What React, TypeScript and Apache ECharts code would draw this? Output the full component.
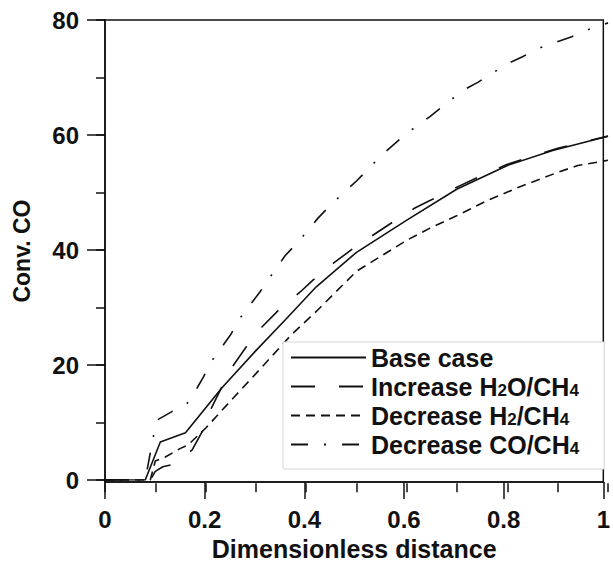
import React, { useEffect, useRef } from "react";
import * as echarts from "echarts";

// ---- data ----
const baseX = [0, 0.08, 0.11, 0.16, 0.233, 0.3, 0.36, 0.42, 0.5, 0.6, 0.7, 0.8, 0.89, 1.0];
const baseY = [0, 0, 6.6, 8.2, 16.1, 22.5, 28, 33.6, 39.6, 45.2, 50.6, 54.7, 57.3, 59.8];

const h2oX = [0, 0.09, 0.1, 0.115, 0.135, 0.173, 0.195, 0.212, 0.233, 0.254, 0.282, 0.312, 0.348, 0.388, 0.414, 0.454, 0.5, 0.573, 0.616, 0.646, 0.706, 0.75, 0.8, 0.9, 1.0];
const h2oY = [0, 0, 1.5, 2.3, 2.7, 5.2, 8.7, 12.6, 16.3, 19.8, 23.3, 26.6, 29.8, 32.7, 34.8, 37.7, 40.7, 44.9, 47.3, 48.6, 51.2, 53, 54.9, 57.7, 59.8];

const h2X = [0, 0.09, 0.1, 0.12, 0.15, 0.165, 0.2, 0.25, 0.3, 0.371, 0.421, 0.5, 0.6, 0.646, 0.7, 0.76, 0.825, 0.9, 0.94, 1.0];
const h2Y = [0, 0, 3.3, 4, 5.5, 6.1, 9, 13.8, 18.5, 25.3, 29.4, 36.3, 41.7, 43.8, 46, 48.6, 51, 53.5, 54.7, 55.6];

const coX = [0, 0.08, 0.096, 0.105, 0.133, 0.163, 0.183, 0.195, 0.213, 0.25, 0.268, 0.308, 0.326, 0.358, 0.388, 0.423, 0.454, 0.5, 0.55, 0.6, 0.646, 0.712, 0.742, 0.8, 0.83, 0.86, 0.928, 0.96, 1.0];
const coY = [0, 0, 7.5, 10.5, 11.9, 13.3, 16, 17.8, 20.8, 25.3, 28.1, 32.7, 35, 39, 41.8, 45.5, 48.3, 52, 56.5, 60.3, 63.2, 67.8, 69.2, 72.4, 73.6, 75, 77.1, 78.3, 79.5];

const seriesNames = ["Base case", "Increase H2O/CH4", "Decrease H2/CH4", "Decrease CO/CH4"];
const legendLabels = [
  "Base case",
  "Increase H{sub|2}O/CH{sub|4}",
  "Decrease H{sub|2}/CH{sub|4}",
  "Decrease CO/CH{sub|4}",
];

const FONT = "'Liberation Sans', Arial, Helvetica, sans-serif";
const INK = "#111";

function zip(xs: number[], ys: number[]) {
  return xs.map((x, i) => [x, ys[i]]);
}

export default function App() {
  const ref = useRef<HTMLDivElement>(null);
  useEffect(() => {
    document.body.style.margin = "0";
    if (!ref.current) return;
    const chart = echarts.init(ref.current, undefined, { renderer: "svg" });
    const lineW = 1.6;
    const mk = (name: string, data: number[][], dash: any) => ({
      name,
      type: "line",
      data,
      symbol: "none",
      smooth: false,
      xAxisIndex: 1,
      yAxisIndex: 1,
      lineStyle: { color: INK, width: lineW, type: dash, cap: "butt" },
      itemStyle: { color: INK },
    });
    const ts = () => ({ color: INK, width: 1.5 });
    const option: any = {
      animation: false,
      grid: [
        // frame grid: its bottom edge (the x axis) sits a little below value 0
        { left: 105, right: 5, top: 20, bottom: 83, show: true, borderColor: INK, borderWidth: 1.5, backgroundColor: "transparent" },
        // value grid: 0 .. 80
        { left: 105, right: 5, top: 20, bottom: 86, show: false },
      ],
      xAxis: [
        {
          type: "value",
          gridIndex: 0,
          min: 0,
          max: 1,
          interval: 0.2,
          position: "bottom",
          name: "Dimensionless distance",
          nameLocation: "middle",
          nameGap: 53,
          nameTextStyle: { fontSize: 25, fontWeight: "bold", color: INK, fontFamily: FONT },
          axisLine: { show: true, onZero: false, lineStyle: ts() },
          axisTick: { show: true, inside: false, length: 17, lineStyle: ts() },
          splitLine: { show: false },
          axisLabel: { margin: 25, fontSize: 24, fontWeight: "bold", color: INK, fontFamily: FONT },
        },
        {
          // minor x ticks (every 0.1), drawn at the frame's bottom edge
          type: "value",
          gridIndex: 1,
          min: 0,
          max: 1,
          interval: 0.1,
          position: "bottom",
          offset: 3.3,
          axisLine: { show: false, onZero: false },
          axisTick: { show: true, inside: false, length: 9, lineStyle: ts() },
          axisLabel: { show: false },
          splitLine: { show: false },
        },
      ],
      yAxis: [
        {
          type: "value",
          gridIndex: 0,
          min: -0.58,
          max: 80,
          position: "left",
          name: "Conv. CO",
          nameLocation: "middle",
          nameGap: 72,
          nameTextStyle: { fontSize: 23, fontWeight: "bold", color: INK, fontFamily: FONT },
          axisLine: { show: true, onZero: false, lineStyle: ts() },
          axisTick: { show: false },
          axisLabel: { show: false },
          splitLine: { show: false },
        },
        {
          type: "value",
          gridIndex: 1,
          min: 0,
          max: 80,
          interval: 20,
          position: "left",
          offset: 0,
          axisLine: { show: false, onZero: false },
          axisTick: { show: true, inside: false, length: 18, lineStyle: ts() },
          axisLabel: { margin: 26, fontSize: 24, fontWeight: "bold", color: INK, fontFamily: FONT },
          splitLine: { show: false },
        },
        {
          // minor y ticks (every 10)
          type: "value",
          gridIndex: 1,
          min: 0,
          max: 80,
          interval: 10,
          position: "left",
          offset: 0,
          axisLine: { show: false, onZero: false },
          axisTick: { show: true, inside: false, length: 9, lineStyle: ts() },
          axisLabel: { show: false },
          splitLine: { show: false },
        },
      ],
      legend: {
        orient: "vertical",
        left: 283,
        top: 342,
        itemWidth: 75,
        itemHeight: 14,
        itemGap: 4,
        padding: [3, 25, 12, 7],
        backgroundColor: "#fff",
        borderColor: "#d6d6d6",
        borderWidth: 1,
        data: seriesNames,
        itemStyle: { color: "rgba(0,0,0,0)", borderWidth: 0, opacity: 0 },
        formatter: (name: string) => legendLabels[seriesNames.indexOf(name)],
        textStyle: {
          fontSize: 25,
          fontWeight: "bold",
          color: INK,
          fontFamily: FONT,
          rich: {
            sub: { fontSize: 17, lineHeight: 14, verticalAlign: "bottom", fontWeight: "bold", color: INK, fontFamily: FONT },
          },
        },
      },
      series: [
        mk(seriesNames[0], zip(baseX, baseY), "solid"),
        mk(seriesNames[1], zip(h2oX, h2oY), [24, 24]),
        mk(seriesNames[2], zip(h2X, h2Y), [9, 6]),
        mk(seriesNames[3], zip(coX, coY), [17, 16, 2, 16]),
      ],
    };
    chart.setOption(option);
    return () => chart.dispose();
  }, []);
  return <div ref={ref} style={{ width: 613, height: 566 }} />;
}
